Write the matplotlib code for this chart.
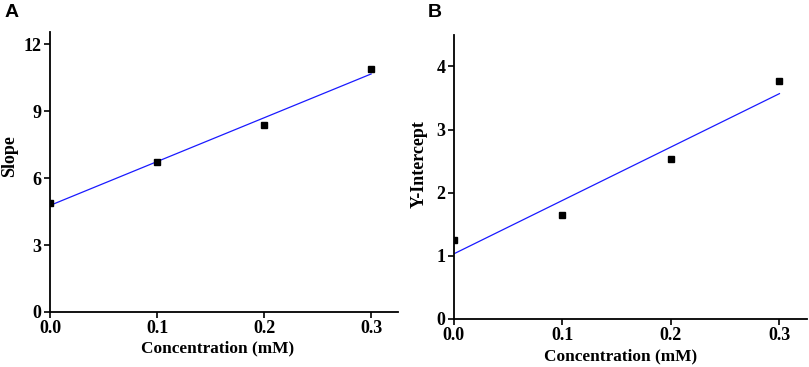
import numpy as np
import matplotlib.pyplot as plt

conc = [0.0, 0.1, 0.2, 0.3]
slope_vals = [4.9, 6.7, 8.4, 10.88]
intercept_vals = [1.25, 1.64, 2.54, 3.77]

plt.rcParams['font.family'] = 'Liberation Serif'
plt.rcParams['font.weight'] = 'bold'

fig = plt.figure(figsize=(8.09, 3.67), dpi=100)
axA = fig.add_axes([0.0618, 0.150, 0.430, 0.763])
axB = fig.add_axes([0.561, 0.131, 0.436, 0.774])


def panel(ax, y, ylabel, ylim, yticks, xlab_pos, ylab_pos):
    k, b = np.polyfit(conc, y, 1)
    xs = np.array([conc[0], conc[-1]])
    ax.plot(xs, k * xs + b, color='#1a1aff', lw=0.9)
    ax.plot(conc, y, 's', color='black', ms=4)
    ax.set_xlim(0, 0.325)
    ax.set_ylim(*ylim)
    ax.set_xticks(conc)
    ax.set_xticklabels(['0.0', '0.1', '0.2', '0.3'])
    ax.set_yticks(yticks)
    for s in ['top', 'right']:
        ax.spines[s].set_visible(False)
    for s in ['left', 'bottom']:
        ax.spines[s].set_linewidth(1.3)
    ax.tick_params(direction='out', length=4, width=1.2, labelsize=13, pad=2)
    ax.set_xlabel('Concentration (mM)', fontsize=12.4, fontweight='bold', va='center')
    ax.set_ylabel(ylabel, fontsize=13, fontweight='bold', va='center')
    ax.xaxis.set_label_coords(*xlab_pos)
    ax.yaxis.set_label_coords(*ylab_pos)


panel(axA, slope_vals, 'Slope', (0, 12.55), [0, 3, 6, 9, 12],
      (0.481, -0.129), (-0.115, 0.555))
panel(axB, intercept_vals, 'Y-Intercept', (0, 4.5), [0, 1, 2, 3, 4],
      (0.474, -0.133), (-0.098, 0.544))

fig.text(0.006, 0.99, 'A', family='Liberation Sans', fontsize=14, fontweight='bold', va='top')
fig.text(0.529, 0.99, 'B', family='Liberation Sans', fontsize=14, fontweight='bold', va='top')

fig.savefig('out.png', dpi=100)
